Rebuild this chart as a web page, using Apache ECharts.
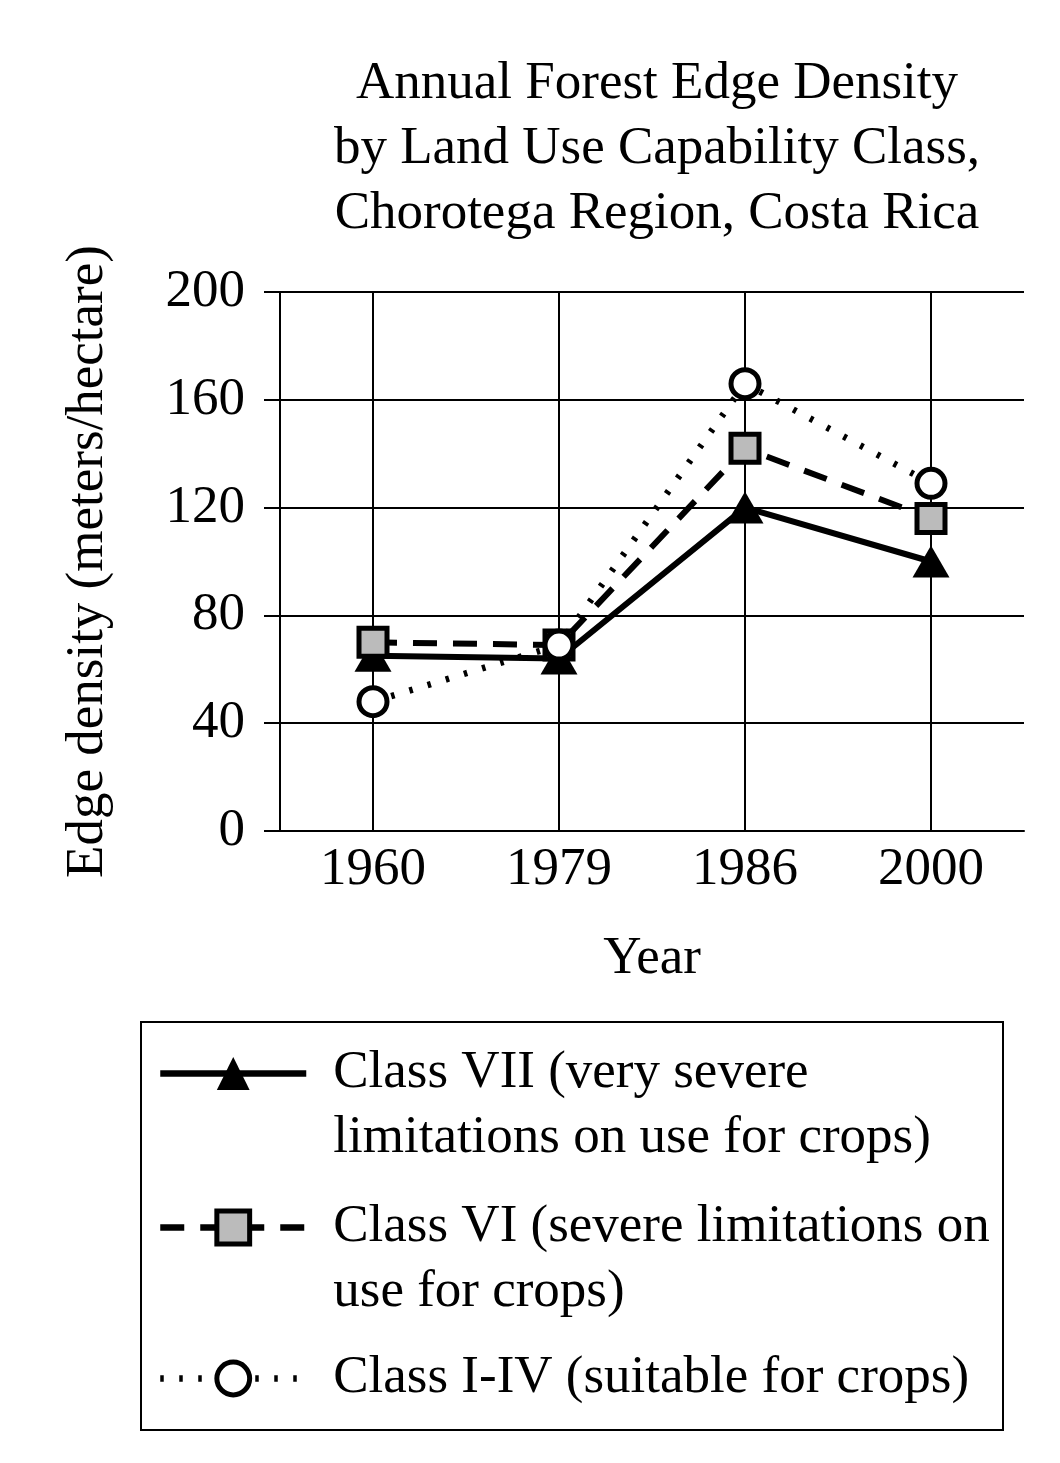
<!DOCTYPE html>
<html>
<head>
<meta charset="utf-8">
<script src="https://cdn.jsdelivr.net/npm/echarts@6/dist/echarts.min.js"></script>
<style>
html,body{margin:0;padding:0;background:#fff;}
#chart{width:1060px;height:1463px;}
</style>
</head>
<body>
<div id="chart"></div>
<script type="text/javascript">
// data
var years = ['1960', '1979', '1986', '2000'];
var class7 = [65, 64, 120, 100];
var class6 = [70, 69, 142, 116];
var class14 = [48, 69, 166, 129];
var names = ['Class VII', 'Class VI', 'Class I-IV'];
var legendLines = [
	['Class VII (very severe', 'limitations on use for crops)'],
	['Class VI (severe limitations on', 'use for crops)'],
	['Class I-IV (suitable for crops)']
];

var font = "'Liberation Serif', 'Times New Roman', serif";
var myChart = echarts.init(document.getElementById('chart'));

// line styles shared by plot and legend
var lineTypes = ['solid', [24, 16], [3.5, 15.5]];
var markStyles = [
	{color: '#000', borderColor: '#000', borderWidth: 0},
	{color: '#bbbbbb', borderColor: '#000', borderWidth: 5},
	{color: '#fff', borderColor: '#000', borderWidth: 5}
];

// icon centre of each legend row, text height is 3 lines (blank padding lines)
var legendY = [1068, 1222, 1373];
var halfH = 92;
var legends = [];
for (var i = 0; i < names.length; i++) {
	legends.push({
		data: [names[i]],
		left: 157,
		top: legendY[i] - halfH,
		padding: 0,
		itemWidth: 146,
		itemHeight: 41,
		selectedMode: false,
		lineStyle: {width: 6.5, type: lineTypes[i], color: '#000'},
		itemStyle: markStyles[i],
		formatter: (function(k){
			return function(){
				var l = legendLines[k];
				return ' \n' + l[0] + '\n' + (l[1] || ' ');
			};
		})(i),
		textStyle: {fontFamily: font, fontSize: 53, lineHeight: 65, color: '#000', padding: [0, 0, 0, 22]}
	});
}

var option = {
	animation: false,
	backgroundColor: '#fff',
	title: {
		text: 'Annual Forest Edge Density\nby Land Use Capability Class,\nChorotega Region, Costa Rica',
		left: 652,
		top: 47,
		textAlign: 'center',
		textStyle: {fontFamily: font, fontSize: 53, fontWeight: 'normal', lineHeight: 65, color: '#000'}
	},
	legend: legends,
	grid: {left: 280, right: 36, top: 292, bottom: 632, containLabel: false},
	xAxis: {
		type: 'category',
		data: years,
		boundaryGap: true,
		name: 'Year',
		nameLocation: 'middle',
		nameGap: 102,
		nameTextStyle: {fontFamily: font, fontSize: 53, color: '#000'},
		axisLine: {show: true, lineStyle: {color: '#000', width: 2}},
		axisTick: {show: false},
		axisLabel: {fontFamily: font, fontSize: 53, color: '#000', margin: 13},
		splitLine: {show: true, alignWithLabel: true, lineStyle: {color: '#000', width: 2}}
	},
	yAxis: {
		type: 'value',
		min: 0,
		max: 200,
		interval: 40,
		name: 'Edge density (meters/hectare)',
		nameLocation: 'middle',
		nameGap: 165,
		nameTextStyle: {fontFamily: font, fontSize: 53, color: '#000'},
		axisLine: {show: true, lineStyle: {color: '#000', width: 2}},
		axisTick: {show: true, length: 16, lineStyle: {color: '#000', width: 2}},
		axisLabel: {fontFamily: font, fontSize: 53, color: '#000', margin: 35},
		splitLine: {show: true, lineStyle: {color: '#000', width: 2}}
	},
	series: [
		{
			name: names[0], type: 'line', data: class7,
			symbol: 'triangle', symbolSize: [37, 32],
			lineStyle: {color: '#000', width: 6, type: lineTypes[0]},
			itemStyle: markStyles[0]
		},
		{
			name: names[1], type: 'line', data: class6,
			symbol: 'rect', symbolSize: 28,
			lineStyle: {color: '#000', width: 6, type: lineTypes[1]},
			itemStyle: markStyles[1]
		},
		{
			name: names[2], type: 'line', data: class14,
			symbol: 'circle', symbolSize: 28,
			lineStyle: {color: '#000', width: 6.5, type: lineTypes[2]},
			itemStyle: markStyles[2]
		}
	],
	graphic: [{
		type: 'rect',
		shape: {x: 141, y: 1022, width: 862, height: 408},
		style: {fill: null, stroke: '#000', lineWidth: 2},
		z: -1
	}]
};
myChart.setOption(option);
</script>
</body>
</html>
